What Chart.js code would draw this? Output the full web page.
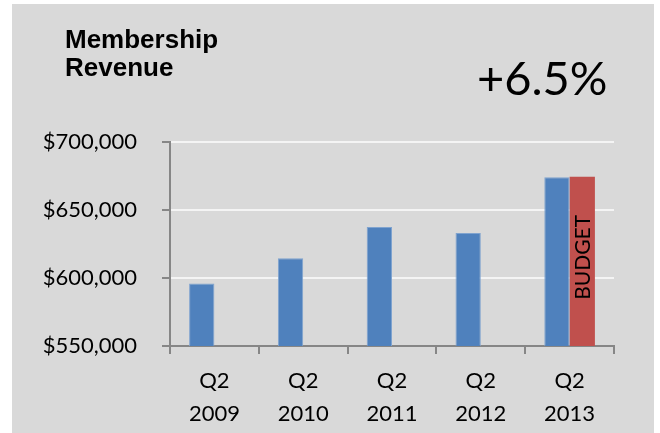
<!DOCTYPE html>
<html>
<head>
<meta charset="utf-8">
<title>Membership Revenue</title>
<script src="https://cdn.jsdelivr.net/npm/chart.js@4.4.1/dist/chart.umd.min.js"></script>
<style>
    html, body { margin: 0; padding: 0; background: #ffffff; }
    #chart { display: block; }
</style>
</head>
<body>
<canvas id="chart" width="660" height="433"></canvas>
<script>
// Quarter labels and revenue values
const quarters = [["Q2", "2009"], ["Q2", "2010"], ["Q2", "2011"], ["Q2", "2012"], ["Q2", "2013"]];
const actualRevenue = [596000, 614500, 637500, 633000, 674000];
const budgetRevenue = [null, null, null, null, 674500];
const yTicks = [550000, 600000, 650000, 700000];

const titleLines = ["Membership", "Revenue"];
const growthText = "+6.5%";
const budgetText = "BUDGET";

const axisGray = '#868686';

// Gray panel behind everything
const panelBackground = {
    id: 'panelBackground',
    beforeDraw(chart) {
        let c = chart.ctx;
        c.save();
        c.fillStyle = '#d9d9d9';
        c.fillRect(12, 4, 642, 429);
        c.restore();
    }
};

// Heading on the left, growth figure on the right, BUDGET inside the red bar
const headingText = {
    id: 'headingText',
    afterDatasetsDraw(chart) {
        let c = chart.ctx;
        c.save();
        c.fillStyle = '#000000';
        c.textBaseline = 'alphabetic';
        c.textAlign = 'left';
        c.font = 'bold 26px "Liberation Sans", Arial, sans-serif';
        titleLines.forEach((line, i) => {
            c.fillText(line, 65, 48 + i * 28);
        });

        c.font = '47px Lato, sans-serif';
        c.fillText(growthText, 477, 95);

        let meta = chart.getDatasetMeta(1);
        let yScale = chart.scales.y;
        budgetRevenue.forEach((value, index) => {
            if (value === null) return;
            let bar = meta.data[index];
            let props = bar.getProps(['x', 'y', 'base'], true);
            let top = yScale.getPixelForValue(value);
            let bottom = yScale.getPixelForValue(yScale.min);
            let cx = props.x;
            let cy = (top + bottom) / 2 - 4;
            c.save();
            c.translate(cx, cy);
            c.rotate(-Math.PI / 2);
            c.textAlign = 'center';
            c.textBaseline = 'middle';
            c.fillStyle = '#000000';
            c.font = '21px Lato, sans-serif';
            c.fillText(budgetText, 0, 1);
            c.restore();
        });
        c.restore();
    }
};

let ctx = document.getElementById('chart').getContext('2d');

let revenueChart = new Chart(ctx, {
    type: 'bar',
    data: {
        labels: quarters,
        datasets: [
            {
                label: 'Actual',
                data: actualRevenue,
                backgroundColor: '#4f81bd',
                borderColor: '#7fa3cf',
                borderWidth: 1,
                barPercentage: 1,
                categoryPercentage: 0.57
            },
            {
                label: 'Budget',
                data: budgetRevenue,
                backgroundColor: '#c0504d',
                borderWidth: 0,
                barPercentage: 1,
                categoryPercentage: 0.57
            }
        ]
    },
    options: {
        responsive: false,
        animation: false,
        layout: {
            padding: { top: 142, right: 46, left: 0, bottom: 0 }
        },
        plugins: {
            legend: { display: false },
            tooltip: { enabled: false }
        },
        scales: {
            x: {
                offset: true,
                afterFit: (scale) => { scale.height = 87; },
                grid: {
                    offset: true,
                    drawOnChartArea: false,
                    tickColor: axisGray,
                    tickLength: 8,
                    lineWidth: 2
                },
                border: { color: axisGray, width: 2 },
                ticks: {
                    color: '#000000',
                    padding: 10,
                    font: { family: 'Lato', size: 22, lineHeight: 1.5 }
                }
            },
            y: {
                min: 550000,
                max: 700000,
                afterFit: (scale) => { scale.width = 170; },
                afterBuildTicks: (scale) => {
                    scale.ticks = yTicks.map(v => ({ value: v }));
                },
                grid: {
                    color: '#f4f4f4',
                    tickColor: axisGray,
                    tickLength: 8,
                    lineWidth: 2
                },
                border: { color: axisGray, width: 2 },
                ticks: {
                    color: '#000000',
                    padding: 25,
                    font: { family: 'Lato', size: 22 },
                    callback: (value) => '$' + value.toLocaleString('en-US')
                }
            }
        }
    },
    plugins: [panelBackground, headingText]
});
</script>
</body>
</html>
